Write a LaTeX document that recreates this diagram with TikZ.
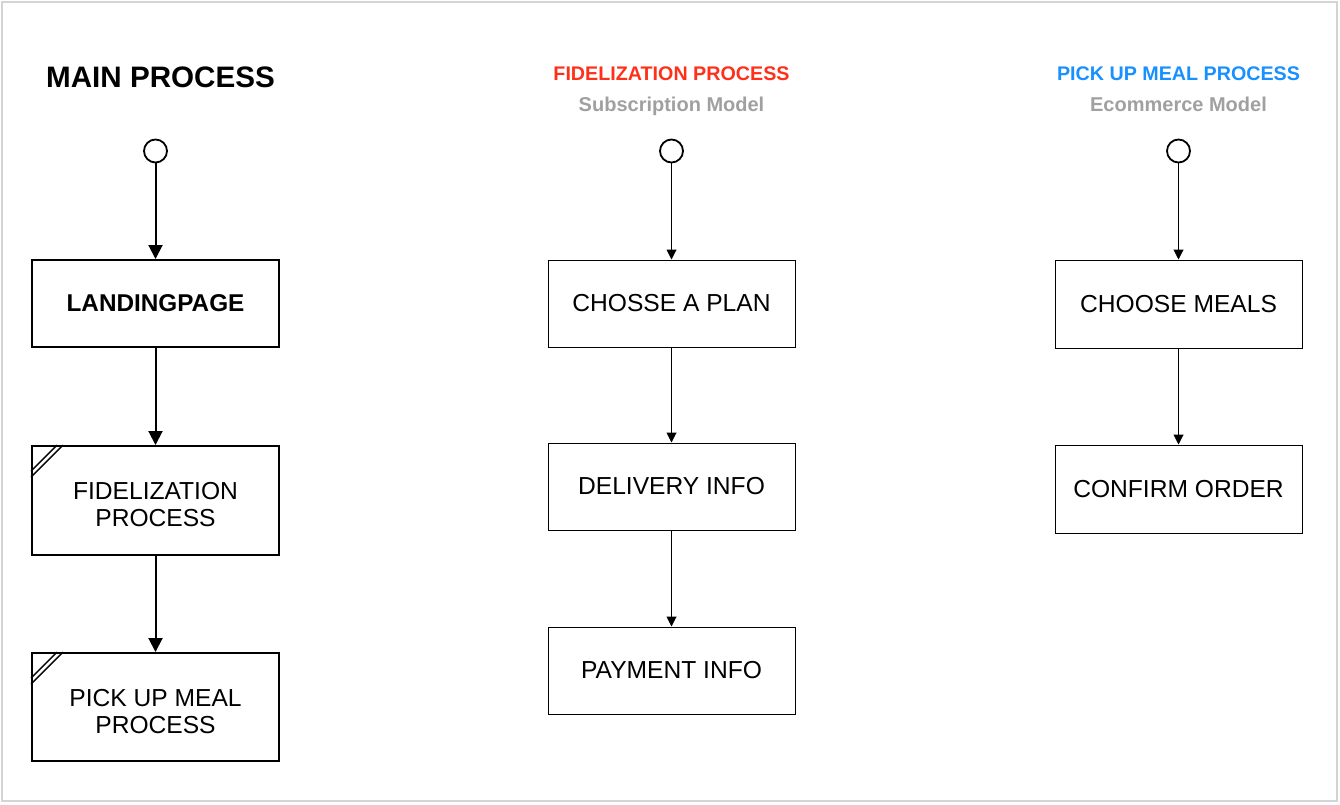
\documentclass[tikz,border=0pt]{standalone}
\usepackage{fontspec}
\setmainfont{Liberation Sans}
\usetikzlibrary{arrows.meta,calc}
\definecolor{fidred}{RGB}{255,48,26}
\definecolor{pickblue}{RGB}{24,144,255}
\definecolor{subgray}{RGB}{160,160,160}
\definecolor{framegray}{RGB}{212,212,212}
\tikzset{
  boxtext/.style={inner sep=0pt, align=center, font=\fontsize{24.6}{27}\selectfont},
  mainbox/.style={draw=black, line width=2pt, fill=white, minimum width=247pt, inner sep=0pt, align=center, font=\fontsize{24.6}{27}\selectfont},
  subbox/.style={draw=black, line width=1pt, fill=white, minimum width=247pt, minimum height=87pt, inner sep=0pt, align=center, font=\fontsize{24.6}{27}\selectfont},
  startdot/.style={circle, draw=black, line width=1.8pt, minimum size=23pt, inner sep=0pt},
  thickarrow/.style={line width=2pt, -{Triangle[length=14pt,width=14pt]}},
  thinarrow/.style={line width=1pt, -{Triangle[length=10pt,width=10pt]}},
  bigtitle/.style={font=\fontsize{29.6}{31}\selectfont\bfseries},
  coltitle/.style={font=\fontsize{19.7}{21}\selectfont\bfseries, anchor=base},
  colsub/.style={font=\fontsize{20}{22}\selectfont\bfseries, text=subgray, anchor=base},
}
\begin{document}
\begin{tikzpicture}[x=1pt,y=-1pt]
\useasboundingbox (0,0) rectangle (1340,804);
\draw[framegray, line width=2pt] (2,2) rectangle (1337,801);

% main process
\node[bigtitle] (mt) at (160.5,77.5) {MAIN PROCESS};
\node[startdot] (ms) at (155.5,151) {};
\node[mainbox, minimum height=87pt, font=\fontsize{24.3}{27}\selectfont\bfseries] (lp) at (155.5,303.5) {LANDINGPAGE};
\node[mainbox, minimum height=109pt] (fp) at (155.5,500.5) {};
\node[boxtext] (fpt) at (155.5,504.5) {FIDELIZATION\\PROCESS};
\node[mainbox, minimum height=108pt] (pp) at (155.5,707) {};
\node[boxtext] (ppt) at (155.5,711.5) {PICK UP MEAL\\PROCESS};
\foreach \b in {fp,pp}{
  \draw[line width=1.4pt] ($(\b.north west)+(0,26)$) -- ($(\b.north west)+(26,0)$);
  \draw[line width=1.4pt] ($(\b.north west)+(0,32)$) -- ($(\b.north west)+(32,0)$);
}
\draw[thickarrow] (ms) -- (lp);
\draw[thickarrow] (lp) -- (fp);
\draw[thickarrow] (fp) -- (pp);

% fidelization
\node[coltitle, text=fidred] (ft) at (671.5,80.7) {FIDELIZATION PROCESS};
\node[colsub] (fs) at (671.5,111.7) {Subscription Model};
\node[startdot] (fst) at (671.5,151) {};
\node[subbox] (cp) at (671.5,303.5) {CHOSSE A PLAN};
\node[subbox] (di) at (671.5,486.5) {DELIVERY INFO};
\node[subbox] (pi) at (671.5,670.5) {PAYMENT INFO};
\draw[thinarrow] (fst) -- (cp);
\draw[thinarrow] (cp) -- (di);
\draw[thinarrow] (di) -- (pi);

% pick up meal
\node[coltitle, text=pickblue] (pt) at (1178.5,80.7) {PICK UP MEAL PROCESS};
\node[colsub] (ps) at (1178.5,111.7) {Ecommerce Model};
\node[startdot] (pst) at (1178.5,151) {};
\node[subbox, minimum height=88pt] (cm) at (1178.5,304) {CHOOSE MEALS};
\node[subbox, minimum height=88pt] (co) at (1178.5,489) {CONFIRM ORDER};
\draw[thinarrow] (pst) -- (cm);
\draw[thinarrow] (cm) -- (co);
\end{tikzpicture}
\end{document}
